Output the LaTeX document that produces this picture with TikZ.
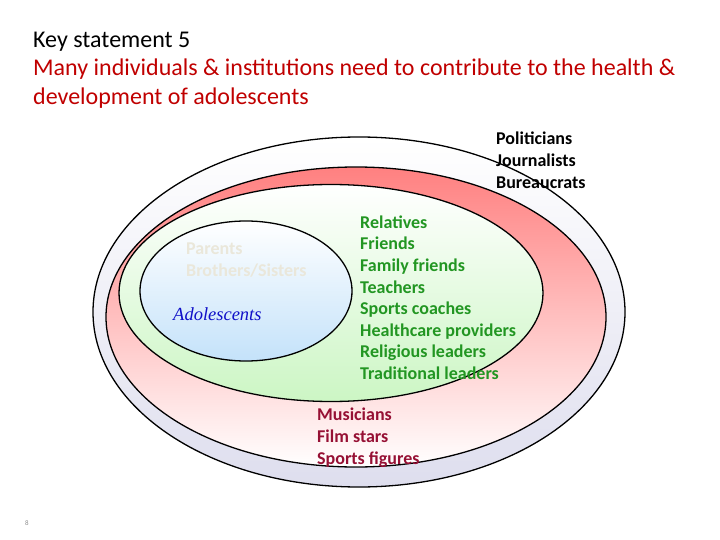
\documentclass[tikz,border=0pt]{standalone}
\usepackage{fontspec}
\setmainfont{Carlito}
\newfontfamily\adofont{Liberation Serif}
\usetikzlibrary{shapes.geometric}
\definecolor{keyred}{RGB}{192,0,0}
\definecolor{ringgreen}{RGB}{34,150,34}
\definecolor{maroonred}{RGB}{150,16,52}
\definecolor{palebeige}{RGB}{234,231,218}
\definecolor{adoblue}{RGB}{16,16,200}
\definecolor{lavender}{RGB}{222,222,238}
\definecolor{salmon}{RGB}{255,128,128}
\definecolor{palegreen}{RGB}{204,246,196}
\definecolor{paleblue}{RGB}{196,226,250}

\begin{document}
\begin{tikzpicture}[x=1pt, y=-1pt,
    ring/.style={ellipse, draw, line width=1.3pt, inner sep=0pt},
    items/.style={anchor=north west, align=left, inner sep=0pt, font=\bfseries\fontsize{18}{21.6}\selectfont},
    title/.style={anchor=base west, inner sep=0pt, font=\fontsize{24}{28}\selectfont}
]
    \useasboundingbox (0,0) rectangle (720,540);

    % nested circles of influence
    \node [ring, top color=white, bottom color=lavender, minimum width=532, minimum height=350] (society) at (359,312) {};
    \node [ring, top color=salmon, bottom color=white, minimum width=500, minimum height=300] (media) at (356,317) {};
    \node [ring, top color=white, bottom color=palegreen, minimum width=424, minimum height=217] (community) at (331,293) {};
    \node [ring, top color=white, bottom color=paleblue, minimum width=212, minimum height=140] (family) at (246,291) {};

    % title
    \node [title] (key) at (33,47.5) {Key statement 5};
    \node [title, text=keyred] (many) at (33,76) {Many individuals \& institutions need to contribute to the health \&};
    \node [title, text=keyred] (dev) at (33,104.5) {development of adolescents};

    % who is in each circle
    \node [items] (leaders) at (496,132) {Politicians\\Journalists\\Bureaucrats};
    \node [items, text=ringgreen] (others) at (360,215.5) {Relatives\\Friends\\Family friends\\Teachers\\Sports coaches\\Healthcare providers\\Religious leaders\\Traditional leaders};
    \node [items, text=palebeige] (parents) at (186,243) {Parents\\Brothers/Sisters};
    \node [items, text=maroonred] (stars) at (317,408) {Musicians\\Film stars\\Sports figures};
    \node [anchor=west, inner sep=0pt, text=adoblue, font=\adofont\itshape\fontsize{18.5}{20}\selectfont] (ado) at (173,314) {Adolescents};

    \node [inner sep=0pt, text=black!45, font=\fontsize{7}{8}\selectfont] (page) at (27,523) {8};
\end{tikzpicture}
\end{document}
